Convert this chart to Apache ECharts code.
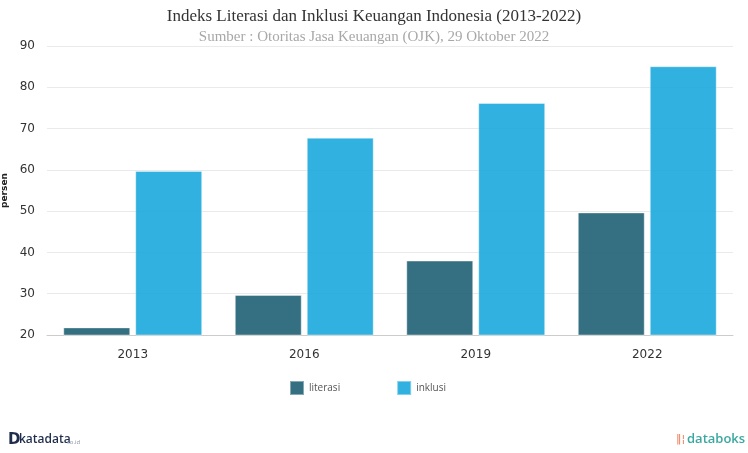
<!DOCTYPE html>
<html>
<head>
<meta charset="utf-8">
<script src="https://cdn.jsdelivr.net/npm/echarts@6/dist/echarts.min.js"></script>
<style>html,body{margin:0;padding:0;background:#fff;overflow:hidden}#c{width:748px;height:453px}</style>
</head>
<body>
<div id="c"></div>
<script>
var categories = ['2013', '2016', '2019', '2022'];
var literasi = [21.84, 29.7, 38.03, 49.68];
var inklusi = [59.74, 67.8, 76.19, 85.1];
var yTicks = [20, 30, 40, 50, 60, 70, 80, 90];

var chart = echarts.init(document.getElementById('c'), null, {renderer: 'canvas'});
chart.setOption({
  animation: false,
  backgroundColor: '#ffffff',
  title: [{
    text: 'Indeks Literasi dan Inklusi Keuangan Indonesia (2013-2022)',
    left: 'center', top: 3,
    textStyle: {fontFamily: 'Liberation Serif', fontSize: 17, fontWeight: 'normal', color: '#333333'}
  }, {
    text: 'Sumber : Otoritas Jasa Keuangan (OJK), 29 Oktober 2022',
    left: 'center', top: 25,
    textStyle: {fontFamily: 'Liberation Serif', fontSize: 15, fontWeight: 'normal', color: '#a8a8a8'}
  }],
  legend: {
    top: 375, left: 284, itemGap: 56,
    itemWidth: 14, itemHeight: 14,
    icon: 'rect',
    textStyle: {fontFamily: 'Open Sans', fontSize: 10, color: '#555555'},
    data: ['literasi', 'inklusi']
  },
  grid: {left: 47, right: 15, top: 46, bottom: 118, containLabel: false, outerBoundsMode: 'none'},
  xAxis: {
    type: 'category', data: categories,
    axisLine: {lineStyle: {color: '#cccccc'}},
    axisTick: {alignWithLabel: true, lineStyle: {color: '#cccccc'}, length: 5},
    axisLabel: {fontFamily: 'DejaVu Sans', fontSize: 12, color: '#333333', margin: 14}
  },
  yAxis: {
    type: 'value', min: yTicks[0], max: yTicks[yTicks.length - 1], interval: 10,
    name: 'persen', nameLocation: 'middle', nameGap: 30, nameRotate: 90,
    nameTextStyle: {fontFamily: 'DejaVu Sans', fontSize: 9, fontWeight: 'bold', color: '#222'},
    axisLine: {show: false}, axisTick: {show: false},
    axisLabel: {fontFamily: 'DejaVu Sans', fontSize: 12, color: '#333333', margin: 12},
    splitLine: {lineStyle: {color: '#eaeaea'}}
  },
  series: [{
    name: 'literasi', type: 'bar', data: literasi,
    barCategoryGap: '19%', barGap: '7.5%',
    itemStyle: {color: 'rgba(30,96,115,0.9)', borderColor: 'rgba(255,255,255,0.4)', borderWidth: 1}
  }, {
    name: 'inklusi', type: 'bar', data: inklusi,
    itemStyle: {color: 'rgba(26,168,221,0.9)', borderColor: 'rgba(255,255,255,0.4)', borderWidth: 1}
  }],
  graphic: [{
    type: 'text', left: 8, top: 433,
    style: {text: 'D', font: 'bold 15px "DejaVu Sans"', fill: '#1f2d4d'}
  }, {
    type: 'text', left: 19, top: 434,
    style: {text: 'katadata', font: '600 12px "Open Sans"', fill: '#1f2d4d'}
  }, {
    type: 'text', left: 67, top: 439,
    style: {text: 'co.id', font: '6px "Open Sans"', fill: '#8a94a6'}
  }, {
    type: 'text', left: 676, top: 434,
    style: {text: '\u2016\u00a6', font: '11px "DejaVu Sans"', fill: '#f07a5a'}
  }, {
    type: 'text', left: 687, top: 433,
    style: {text: 'databoks', font: '600 13px "Open Sans"', fill: '#3aa8a0'}
  }]
});
</script>
</body>
</html>
